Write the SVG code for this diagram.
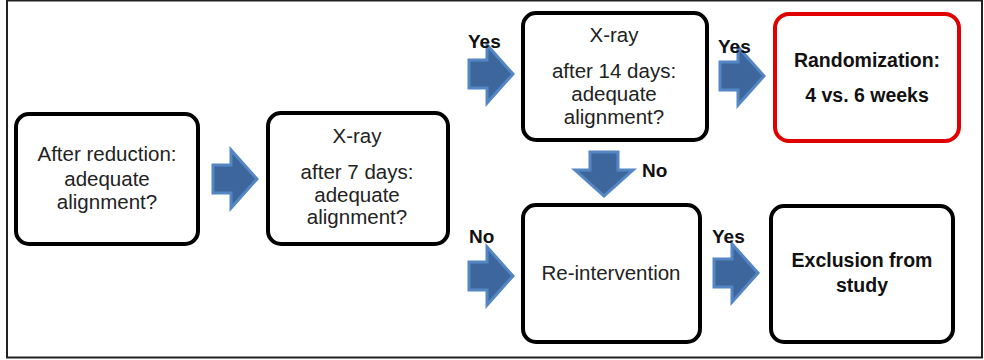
<svg xmlns="http://www.w3.org/2000/svg" width="984" height="360" viewBox="0 0 984 360">
<style>
.box{fill:#fff;stroke:#000;stroke-width:4}
.red{fill:#fff;stroke:#e00000;stroke-width:4}
.t{font-family:"Liberation Sans",Arial,sans-serif;font-size:20.5px;fill:#222;text-anchor:middle}
.tb{font-family:"Liberation Sans",Arial,sans-serif;font-size:19.5px;font-weight:bold;fill:#111;text-anchor:middle}
.b{font-family:"Liberation Sans",Arial,sans-serif;font-size:19px;font-weight:bold;fill:#111}
.arr{fill:#3d679c;stroke:#5486c4;stroke-width:3;stroke-linejoin:miter}
</style>
<defs>
<path id="ar" class="arr" d="M0,-14 H18 V-29 L44,0 L18,29 V14 H0 Z"/>
</defs>
<rect x="0" y="0" width="984" height="360" fill="#fff"/>
<rect x="7" y="0.5" width="975" height="357" fill="none" stroke="#222" stroke-width="2"/>
<g id="connectors">
<use href="#ar" x="213" y="179"/>
<use href="#ar" x="469" y="74"/>
<use href="#ar" x="720" y="76"/>
<use href="#ar" x="0" y="0" transform="translate(604,152) rotate(90)"/>
<use href="#ar" x="469" y="276"/>
<use href="#ar" x="714" y="273"/>
<text class="b" x="468" y="48">Yes</text>
<text class="b" x="718" y="53">Yes</text>
<text class="b" x="642" y="177">No</text>
<text class="b" x="469" y="243">No</text>
<text class="b" x="712" y="243">Yes</text>
</g>
<g id="n1">
<rect class="box" x="16" y="114" width="182" height="130" rx="13"/>
<text class="t" x="107" y="161">After reduction:</text>
<text class="t" x="107" y="186">adequate</text>
<text class="t" x="107" y="209">alignment?</text>
</g>
<g id="n2">
<rect class="box" x="268" y="113" width="180" height="131" rx="13"/>
<text class="t" x="357" y="143">X-ray</text>
<text class="t" x="357" y="179">after 7 days:</text>
<text class="t" x="357" y="202">adequate</text>
<text class="t" x="357" y="224">alignment?</text>
</g>
<g id="n3">
<rect class="box" x="523" y="13" width="184" height="127" rx="13"/>
<text class="t" x="614" y="42">X-ray</text>
<text class="t" x="614" y="78">after 14 days:</text>
<text class="t" x="614" y="101">adequate</text>
<text class="t" x="614" y="124">alignment?</text>
</g>
<g id="n4">
<rect class="red" x="775" y="14" width="184" height="127" rx="14"/>
<text class="tb" x="867" y="67">Randomization:</text>
<text class="tb" x="867" y="102">4 vs. 6 weeks</text>
</g>
<g id="n5">
<rect class="box" x="523" y="205" width="177" height="137" rx="13"/>
<text class="t" x="611" y="280">Re-intervention</text>
</g>
<g id="n6">
<rect class="box" x="771" y="206" width="182" height="136" rx="13"/>
<text class="tb" x="862" y="267">Exclusion from</text>
<text class="tb" x="862" y="292">study</text>
</g>
</svg>
